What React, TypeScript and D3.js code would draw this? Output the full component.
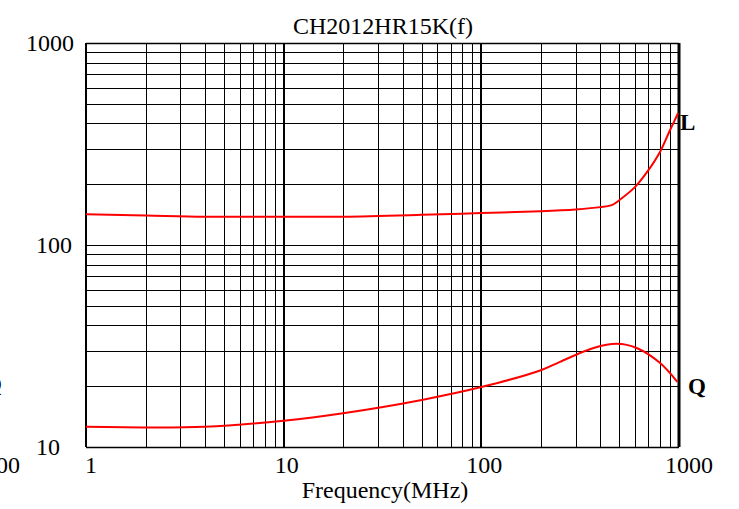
import React from "react";
import * as d3 from "d3";

const title = "CH2012HR15K(f)";
const xLabel = "Frequency(MHz)";
const xTicks = [1, 10, 100, 1000];
const yTicks = [10, 100, 1000];

const lFreq = [1, 2, 4, 10, 20, 50, 100, 200, 300, 400, 460, 500, 600, 690, 800, 900, 990];
const lVal = [142, 140, 138, 138, 138, 141, 144, 147, 150, 154, 158, 167, 194, 230, 288, 370, 450];

const qFreq = [1, 4, 10, 20, 50, 100, 200, 250, 370, 485, 610, 800, 980];
const qVal = [12.6, 12.6, 13.5, 14.7, 17.1, 19.8, 24, 26.4, 30.9, 32.4, 30.9, 26.1, 21.0];

const W = 739;
const H = 509;

export default function App() {
  const x = d3.scaleLog().domain([1, 1000]).range([86, 679]);
  const y = d3.scaleLog().domain([10, 1000]).range([447, 43]);

  const xGrid: { v: number; major: boolean }[] = [];
  for (let d = 1; d < 1000; d *= 10) {
    for (let k = 1; k <= 10; k++) xGrid.push({ v: d * k, major: k === 1 || k === 10 });
  }
  const yGrid: { v: number; edge: boolean }[] = [];
  for (let d = 10; d < 1000; d *= 10) {
    for (let k = 1; k <= 10; k++) yGrid.push({ v: d * k, edge: d * k === 10 || d * k === 1000 });
  }

  const line = d3
    .line<[number, number]>()
    .x((d) => x(d[0]))
    .y((d) => y(d[1]))
    .curve(d3.curveCatmullRom.alpha(0.5));

  const lPts = lFreq.map((f, i) => [f, lVal[i]] as [number, number]);
  const qPts = qFreq.map((f, i) => [f, qVal[i]] as [number, number]);

  const font = "'Liberation Serif', 'Times New Roman', serif";
  const [x0, x1] = x.range();
  const [y0, y1] = y.range();

  return (
    <svg
      width={W}
      height={H}
      style={{ position: "absolute", left: 0, top: 0, background: "#fff" }}
      fontFamily={font}
    >
      <rect width={W} height={H} fill="#fff" />
      {xGrid.map((g, i) => {
        const px = Math.round(x(g.v)) + (g.major ? 0 : 0.5);
        return (
          <line
            key={"xg" + i}
            x1={px}
            x2={px}
            y1={y1}
            y2={y0}
            stroke="#000"
            strokeWidth={g.major ? 2 : 1}
          />
        );
      })}
      {yGrid.map((g, i) => {
        const py = Math.round(y(g.v)) + 0.5;
        return (
          <line
            key={"yg" + i}
            x1={x0}
            x2={x1}
            y1={py}
            y2={py}
            stroke="#000"
            strokeWidth={g.edge ? 1.5 : 1}
          />
        );
      })}
      <line x1={x1} x2={x1} y1={y1} y2={y0} stroke="#000" strokeWidth={3} />
      <path d={line(lPts) || ""} fill="none" stroke="#ff0000" strokeWidth={2} />
      <path d={line(qPts) || ""} fill="none" stroke="#ff0000" strokeWidth={2} />

      <text x={383} y={34} fontSize={24} textAnchor="middle" fill="#000">
        {title}
      </text>
      {yTicks.map((t) => (
        <text
          key={"yt" + t}
          x={t === 1000 ? 74 : 36}
          y={y(t) + 8}
          fontSize={24}
          textAnchor={t === 1000 ? "end" : "start"}
          fill="#000"
        >
          {t}
        </text>
      ))}
      {xTicks.map((t) => (
        <text
          key={"xt" + t}
          x={x(t) + (t === 1000 ? 10 : t === 1 ? 5 : 3)}
          y={473}
          fontSize={24}
          textAnchor="middle"
          fill="#000"
        >
          {t}
        </text>
      ))}
      <text x={385} y={498} fontSize={24} textAnchor="middle" fill="#000">
        {xLabel}
      </text>
      <text x={680} y={130} fontSize={23} fontWeight="bold" fill="#000">
        L
      </text>
      <text x={688} y={394} fontSize={23} fontWeight="bold" fill="#000">
        Q
      </text>
      <text x={2} y={392} fontSize={23} fontWeight="bold" textAnchor="end" fill="#000">
        Q
      </text>
      <text x={20} y={473} fontSize={24} textAnchor="end" fill="#000">
        1000
      </text>
    </svg>
  );
}
